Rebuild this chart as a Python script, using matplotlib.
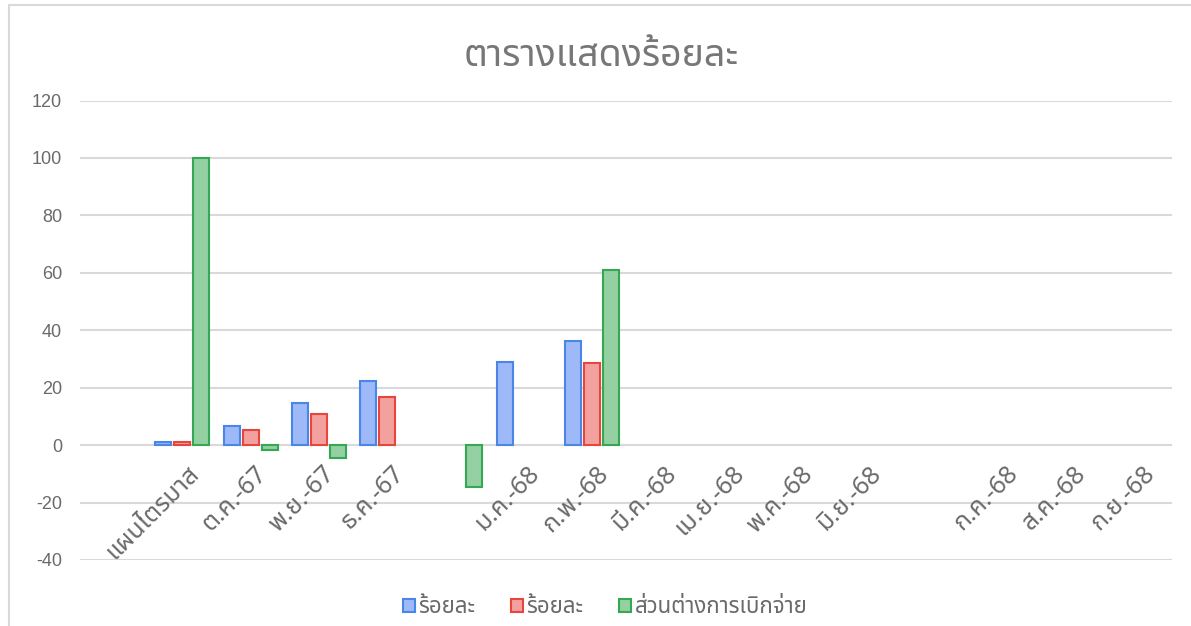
import matplotlib
matplotlib.use("Agg")
from matplotlib import pyplot as plt
from matplotlib.patches import Rectangle
import numpy as np

plt.rcParams['font.family'] = ['Noto Sans Thai', 'DejaVu Sans']

categories = ['', 'แผนไตรมาส', 'ต.ค.-67', 'พ.ย.-67', 'ธ.ค.-67', '', 'ม.ค.-68', 'ก.พ.-68',
              'มี.ค.-68', 'เม.ย.-68', 'พ.ค.-68', 'มิ.ย.-68', '', 'ก.ค.-68', 'ส.ค.-68', 'ก.ย.-68']
nan = np.nan
pct_a = [nan, 1.0, 6.7, 14.8, 22.4, nan, 28.9, 36.3, nan, nan, nan, nan, nan, nan, nan, nan]
pct_b = [nan, 1.0, 5.1, 10.7, 16.9, nan, nan, 28.6, nan, nan, nan, nan, nan, nan, nan, nan]
diff = [nan, 100.0, -1.8, -4.5, nan, -14.6, nan, 60.9, nan, nan, nan, nan, nan, nan, nan, nan]
series_names = ['ร้อยละ', 'ร้อยละ', 'ส่วนต่างการเบิกจ่าย']
yticks = [-40, -20, 0, 20, 40, 60, 80, 100, 120]

fills = ['#9db9f7', '#f3a19e', '#94d0a1']
edges = ['#4a86e8', '#e8453c', '#34a853']
grey = '#6a6a6a'

fig = plt.figure(figsize=(11.91, 6.26), dpi=100)
ax = fig.add_axes([80 / 1191, 1 - 560 / 626, 1092 / 1191, 459.5 / 626])

x = np.arange(len(categories))
w = 0.235
off = 0.278
for k, vals in enumerate([pct_a, pct_b, diff]):
    v = np.array(vals)
    m = ~np.isnan(v)
    ax.bar(x[m] + (k - 1) * off, v[m], width=w, color=fills[k], edgecolor=edges[k],
           linewidth=1.5, label=series_names[k], zorder=3)

ax.set_xlim(-0.5, len(categories) - 0.5)
ax.set_ylim(-40, 120)
ax.set_yticks(yticks)
ax.set_yticklabels([str(t) for t in yticks], fontsize=13, color=grey,
                   family=['Liberation Sans', 'DejaVu Sans'])
ax.tick_params(axis='y', length=0, pad=13)
ax.set_xticks([])
ax.grid(axis='y', color='#d9d9d9', linewidth=1.5, zorder=0)
for s in ax.spines.values():
    s.set_visible(False)

# category labels sit just under the zero line, like the sheet's axis
for i, c in enumerate(categories):
    if c:
        ax.text(i + 0.06, -5.5, c, rotation=45, rotation_mode='anchor', ha='right', va='top',
                fontsize=18, color=grey, zorder=4)

fig.text(0.505, 0.91, 'ตารางแสดงร้อยละ', ha='center', va='center', fontsize=27, color='#777777')

leg = fig.legend(loc='center', bbox_to_anchor=(0.508, 0.029), ncol=3, frameon=False,
                 fontsize=16, handlelength=0.55, handleheight=0.55, handletextpad=0.15,
                 columnspacing=1.6, labelcolor=grey)

fig.add_artist(Rectangle((9 / 1191, -0.1), 1.2, 1 - 5 / 626 + 0.1, transform=fig.transFigure,
                         fill=False, edgecolor='#d9d9d9', linewidth=1.5))

fig.savefig("out.png")
